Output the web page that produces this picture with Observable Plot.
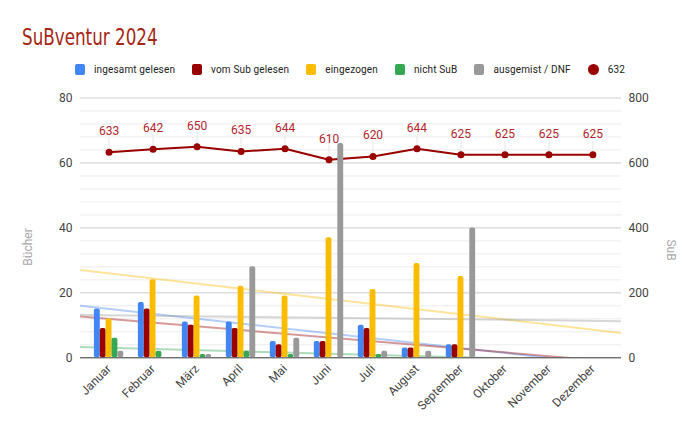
<!DOCTYPE html>
<html>
<head>
<meta charset="utf-8">
<script src="https://cdn.jsdelivr.net/npm/d3@7"></script>
<script src="https://cdn.jsdelivr.net/npm/@observablehq/plot@0.6"></script>
<style>
  html, body { margin: 0; padding: 0; background: #fff; }
  #wrap { position: relative; width: 700px; height: 432px; overflow: hidden; font-family: Roboto, "Noto Sans", sans-serif; }
  #title { position: absolute; left: 22px; top: 24px; font-family: "Liberation Sans Narrow", "DejaVu Sans Condensed", Roboto, sans-serif; font-size: 23px; color: #a52714; white-space: nowrap; transform: scaleX(0.81); transform-origin: 0 0; }
  #legend { position: absolute; left: 0; width: 700px; top: 64px; display: flex; justify-content: center; align-items: center; gap: 17px; font-size: 10px; color: #222; letter-spacing: 0.15px; }
  .item { display: flex; align-items: center; }
  .sw { width: 10px; height: 11px; border-radius: 2px; margin-right: 9px; }
  .dot { width: 11px; height: 11px; border-radius: 50%; margin-right: 9px; }
  .layer { position: absolute; left: 0; top: 80px; }
  .atitle { position: absolute; font-size: 12px; color: #a8a8a8; white-space: nowrap; }
</style>
</head>
<body>
<div id="wrap">
  <div id="title">SuBventur 2024</div>
  <div id="legend"></div>
  <div id="bottomLayer" class="layer"></div>
  <div id="topLayer" class="layer"></div>
  <div class="atitle" style="left:28px; top:247px; transform: translate(-50%,-50%) rotate(-90deg);">Bücher</div>
  <div class="atitle" style="left:671px; top:250px; transform: translate(-50%,-50%) rotate(90deg);">SuB</div>
</div>
<script>
const months = ["Januar","Februar","März","April","Mai","Juni","Juli","August","September","Oktober","November","Dezember"];
const seriesNames = ["ingesamt gelesen","vom Sub gelesen","eingezogen","nicht SuB","ausgemist / DNF"];
const seriesColors = ["#4285f4","#990000","#fbbc04","#34a853","#999999"];
const ingesamt   = [15,17,11,11,5,5,10,3,4,0,0,0];
const vomSub     = [9,15,10,9,4,5,9,3,4,0,0,0];
const eingezogen = [12,24,19,22,19,37,21,29,25,0,0,0];
const nichtSub   = [6,2,1,2,1,0,1,0,0,0,0,0];
const ausgemist  = [2,0,1,28,6,66,2,2,40,0,0,0];
const subName = "632";
const sub = [633,642,650,635,644,610,620,644,625,625,625,625];
const lineColor = "#990000";
const leftTicks = [0,20,40,60,80];

const seriesValues = [ingesamt, vomSub, eingezogen, nichtSub, ausgemist];

// legend
const legendEl = document.getElementById("legend");
seriesNames.forEach((n, k) => {
  const it = document.createElement("div"); it.className = "item";
  it.innerHTML = `<div class="sw" style="background:${seriesColors[k]}"></div><span>${n}</span>`;
  legendEl.appendChild(it);
});
{
  const it = document.createElement("div"); it.className = "item";
  it.innerHTML = `<div class="dot" style="background:${lineColor}"></div><span>${subName}</span>`;
  legendEl.appendChild(it);
}

const W = 700, H = 352;
const margins = {marginLeft: 80, marginRight: 79, marginTop: 17.5, marginBottom: 74.7};
const xDomain = [-0.65, 11.65];

// long table for bars
const long = [];
seriesNames.forEach((s, k) => seriesValues[k].forEach((v, i) => { if (v > 0) long.push({month: months[i], series: s, value: v}); }));

// trend lines (least squares over all months)
function linreg(vals) {
  const n = vals.length, xs = d3.range(n);
  const mx = d3.mean(xs), my = d3.mean(vals);
  const b = d3.sum(xs, (x, i) => (x - mx) * (vals[i] - my)) / d3.sum(xs, x => (x - mx) ** 2);
  return x => my + b * (x - mx);
}
const trends = [];
seriesNames.forEach((s, k) => {
  const f = linreg(seriesValues[k]);
  xDomain.forEach(x => trends.push({series: s, x, y: f(x)}));
});

const lineData = sub.map((v, i) => ({i, v, y: v / 10}));
const minor = d3.range(0, 81, 4).filter(d => d % 20 !== 0);

const chartBottom = Plot.plot({
  width: W, height: H, ...margins,
  style: {fontFamily: "Roboto, sans-serif", fontSize: "12px", color: "#444", background: "transparent"},
  x: {type: "linear", domain: xDomain},
  y: {domain: [0, 80]},
  color: {domain: seriesNames, range: seriesColors},
  marks: [
    Plot.ruleY(minor, {stroke: "#ebebeb"}),
    Plot.ruleY(leftTicks.slice(1), {stroke: "#cccccc"}),
    Plot.axisY({ticks: leftTicks, tickSize: 0, tickPadding: 8, label: null, fill: "#444"}),
    Plot.axisY({anchor: "right", ticks: leftTicks, tickFormat: d => String(d * 10), tickSize: 0, tickPadding: 7, label: null, fill: "#444"}),
    Plot.axisX({ticks: d3.range(12), tickFormat: i => months[i], tickRotate: -45, tickSize: 0, tickPadding: 9, label: null, fill: "#444"}),
    Plot.line(trends, {x: "x", y: "y", z: "series", stroke: "series", strokeOpacity: 0.4, strokeWidth: 2, clip: true}),
    Plot.ruleX(lineData, {x: "i", y1: "y", y2: d => d.y + 4.5, stroke: "#e6e6e6"}),
    Plot.ruleY([0], {stroke: "#333"}),
    Plot.line(lineData, {x: "i", y: "y", stroke: lineColor, strokeWidth: 2}),
    Plot.dot(lineData, {x: "i", y: "y", r: 3.5, fill: lineColor}),
    Plot.text(lineData, {x: "i", y: "y", text: d => String(d.v), dy: -21, fill: "#b3262e", fontSize: 12})
  ]
});
document.getElementById("bottomLayer").appendChild(chartBottom);

const chartTop = Plot.plot({
  width: W, height: H, ...margins,
  style: {fontFamily: "Roboto, sans-serif", fontSize: "12px", background: "transparent"},
  facet: {data: long, x: "month"},
  fx: {domain: months, paddingInner: 0, paddingOuter: 0.15, round: false, axis: null, label: null},
  x: {domain: seriesNames, paddingInner: 0, paddingOuter: 1.24, round: false, axis: null},
  y: {domain: [0, 80], axis: null},
  color: {domain: seriesNames, range: seriesColors},
  marks: [
    Plot.barY(long, {x: "series", y: "value", fill: "series", rx: 2, insetLeft: 0, insetRight: 0})
  ]
});
document.getElementById("topLayer").appendChild(chartTop);
</script>
</body>
</html>
